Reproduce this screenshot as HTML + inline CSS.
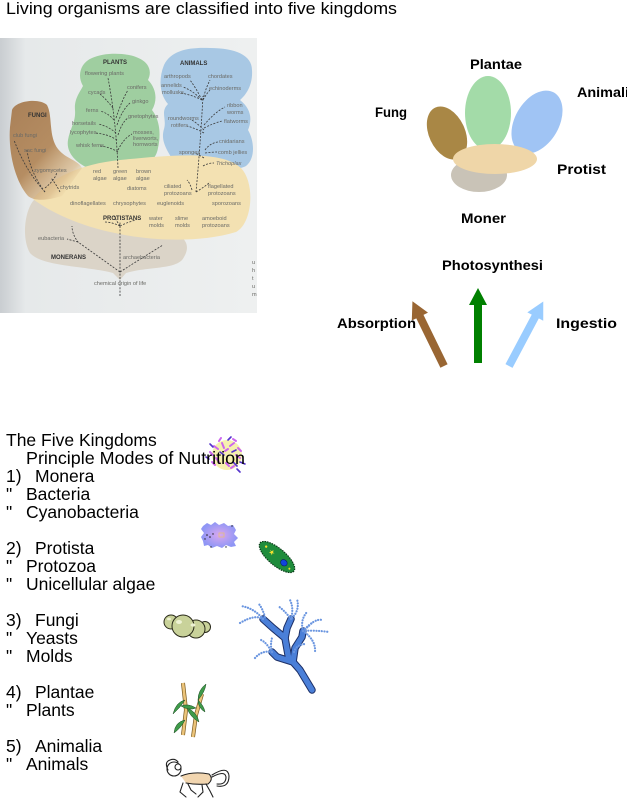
<!DOCTYPE html>
<html><head><meta charset="utf-8"><style>
html,body{margin:0;padding:0;background:#fff;}
svg{display:block;}
.t{font-family:"Liberation Sans",Arial,sans-serif;font-size:17.5px;fill:#000;}
.tt{font-family:"Liberation Sans",Arial,sans-serif;font-size:16.5px;fill:#000;}
.c{font-family:"Liberation Sans",Arial,sans-serif;font-size:14px;font-weight:bold;fill:#000;}
.p{font-family:"Liberation Sans",Arial,sans-serif;font-size:5.6px;fill:#6a6a66;}
.pb{font-family:"Liberation Sans",Arial,sans-serif;font-size:6px;font-weight:bold;fill:#333;}
.d{fill:none;stroke:#3a3a3a;stroke-width:0.8;stroke-dasharray:2 1.4;}
</style></head><body>
<svg width="627" height="800" viewBox="0 0 627 800" xmlns="http://www.w3.org/2000/svg">
<defs>
<linearGradient id="bgL" x1="0" y1="0" x2="1" y2="0">
<stop offset="0" stop-color="#c9cdd1"/><stop offset="0.1" stop-color="#e6e9ea"/><stop offset="1" stop-color="#eef0f0"/>
</linearGradient>
<linearGradient id="brn" x1="0" y1="0" x2="0.8" y2="1">
<stop offset="0" stop-color="#a98058"/><stop offset="0.55" stop-color="#b58d62"/><stop offset="0.85" stop-color="#d9b98a" stop-opacity="0.7"/><stop offset="1" stop-color="#f3e1b1" stop-opacity="0"/>
</linearGradient>
<radialGradient id="amb" cx="0.5" cy="0.5" r="0.5">
<stop offset="0" stop-color="#d9a8f0"/><stop offset="1" stop-color="#8f96f5"/>
</radialGradient>
</defs>

<!-- title -->
<text class="tt" x="6" y="14" textLength="391" lengthAdjust="spacingAndGlyphs">Living organisms are classified into five kingdoms</text>

<!-- photo -->
<rect x="0" y="38" width="257" height="275" fill="url(#bgL)"/>
<path d="M35,199 C25,208 21,238 30,253 C42,267 88,266 113,273 L120,280 L126,273 C150,266 178,270 184,257 C190,247 186,240 180,236 Z" fill="#dbd4c8"/>
<path d="M88,168 C75,162 66,152 68,140 C70,128 76,122 75,110 C74,99 80,92 83,86 C77,76 80,63 92,58 C105,52 126,53 136,57 C150,62 152,72 148,80 C156,88 158,100 152,110 C160,120 161,135 158,148 C156,160 148,164 138,166 Z" fill="#9fcea0"/>
<path d="M178,168 C168,152 160,142 164,129 C167,119 160,112 168,104 C160,95 158,80 164,65 C171,50 190,47 210,48 C235,48 252,55 252,70 C253,85 246,95 240,100 C250,108 253,118 248,130 C254,140 256,158 246,166 C235,172 200,172 178,168 Z" fill="#a8c8e4"/>
<path d="M33,199 C50,178 80,164 120,160 C170,155 222,150 241,168 C256,184 252,224 236,232 C200,243 150,241 115,233 C80,226 50,212 33,199 Z" fill="#f3e1b2"/>
<path d="M12,110 C16,100 40,98 47,105 C53,116 48,136 58,149 C66,159 78,160 82,168 L62,196 C46,201 34,201 28,196 C15,181 8,152 10,127 Z" fill="url(#brn)"/>

<path class="d" d="M118,168 Q116,120 108,78"/>
<path class="d" d="M113,108 Q106,99 100,94"/>
<path class="d" d="M116,118 Q122,100 128,90"/>
<path class="d" d="M117,125 Q122,110 130,103"/>
<path class="d" d="M118,135 Q122,122 128,118"/>
<path class="d" d="M114,120 Q108,113 100,111"/>
<path class="d" d="M116,133 Q108,126 98,124"/>
<path class="d" d="M117,140 Q108,134 95,133"/>
<path class="d" d="M118,152 Q110,147 100,146"/>
<path class="d" d="M118,150 Q124,138 132,134"/>
<path class="d" d="M196,192 Q200,150 203,96"/>
<path class="d" d="M202,100 Q196,88 190,80"/>
<path class="d" d="M203,100 Q205,90 210,80"/>
<path class="d" d="M202,100 Q192,90 183,87"/>
<path class="d" d="M202,100 Q192,95 181,93"/>
<path class="d" d="M203,100 Q207,93 210,90"/>
<path class="d" d="M204,125 Q215,112 225,107"/>
<path class="d" d="M204,128 Q214,123 222,121"/>
<path class="d" d="M204,130 Q196,122 190,119"/>
<path class="d" d="M204,133 Q195,128 187,126"/>
<path class="d" d="M205,150 Q210,143 218,142"/>
<path class="d" d="M205,153 Q212,152 217,152"/>
<path class="d" d="M204,158 Q199,155 195,153"/>
<path class="d" d="M203,166 Q208,163 214,163"/>
<path class="d" d="M196,192 Q206,186 210,182"/>
<path class="d" d="M192,190 Q190,183 187,180"/>
<path class="d" d="M120,296 L120,222"/>
<path class="d" d="M120,226 Q112,222 104,222"/>
<path class="d" d="M120,226 Q128,222 136,220"/>
<path class="d" d="M120,226 Q116,220 114,216"/>
<path class="d" d="M120,272 Q92,252 78,242 Q72,234 72,226"/>
<path class="d" d="M78,242 L67,239"/>
<path class="d" d="M120,272 Q145,256 163,245"/>
<path class="d" d="M45,192 Q25,170 14,140"/>
<path class="d" d="M45,192 Q30,172 27,150"/>
<path class="d" d="M45,188 Q55,180 57,172"/>
<path class="d" d="M60,192 Q56,184 51,178"/>

<text class="pb" x="103" y="64">PLANTS</text>
<text class="p" x="85" y="75">flowering plants</text>
<text class="p" x="127" y="89">conifers</text>
<text class="p" x="88" y="94">cycads</text>
<text class="p" x="132" y="103">ginkgo</text>
<text class="p" x="86" y="112">ferns</text>
<text class="p" x="128" y="118">gnetophytes</text>
<text class="p" x="72" y="125">horsetails</text>
<text class="p" x="70" y="134">lycophytes</text>
<text class="p" x="133" y="134">mosses,</text>
<text class="p" x="133" y="140">liverworts,</text>
<text class="p" x="133" y="146">hornworts</text>
<text class="p" x="76" y="147">whisk ferns</text>
<text class="pb" x="180" y="65">ANIMALS</text>
<text class="p" x="164" y="78">arthropods</text>
<text class="p" x="208" y="78">chordates</text>
<text class="p" x="161" y="87">annelids</text>
<text class="p" x="209" y="90">echinoderms</text>
<text class="p" x="162" y="94">mollusks</text>
<text class="p" x="227" y="107">ribbon</text>
<text class="p" x="227" y="114">worms</text>
<text class="p" x="168" y="120">roundworms</text>
<text class="p" x="224" y="123">flatworms</text>
<text class="p" x="171" y="127">rotifers</text>
<text class="p" x="219" y="143">cnidarians</text>
<text class="p" x="179" y="154">sponges</text>
<text class="p" x="218" y="154">comb jellies</text>
<text class="p" x="216" y="165" font-style="italic">Trichoplax</text>
<text class="pb" x="28" y="117">FUNGI</text>
<text class="p" x="13" y="137">club fungi</text>
<text class="p" x="24" y="152">sac fungi</text>
<text class="p" x="34" y="172">zygomycetes</text>
<text class="p" x="60" y="189">chytrids</text>
<text class="p" x="93" y="173">red</text>
<text class="p" x="93" y="180">algae</text>
<text class="p" x="113" y="173">green</text>
<text class="p" x="113" y="180">algae</text>
<text class="p" x="136" y="173">brown</text>
<text class="p" x="136" y="180">algae</text>
<text class="p" x="127" y="190">diatoms</text>
<text class="p" x="164" y="188">ciliated</text>
<text class="p" x="164" y="195">protozoans</text>
<text class="p" x="208" y="188">flagellated</text>
<text class="p" x="208" y="195">protozoans</text>
<text class="p" x="70" y="205">dinoflagellates</text>
<text class="p" x="113" y="205">chrysophytes</text>
<text class="p" x="157" y="205">euglenoids</text>
<text class="p" x="212" y="205">sporozoans</text>
<text class="pb" x="103" y="220">PROTISTANS</text>
<text class="p" x="149" y="220">water</text>
<text class="p" x="149" y="227">molds</text>
<text class="p" x="175" y="220">slime</text>
<text class="p" x="175" y="227">molds</text>
<text class="p" x="202" y="220">amoeboid</text>
<text class="p" x="202" y="227">protozoans</text>
<text class="p" x="38" y="240">eubacteria</text>
<text class="pb" x="51" y="259">MONERANS</text>
<text class="p" x="123" y="259">archaebacteria</text>
<text class="p" x="94" y="285">chemical origin of life</text>
<text class="p" x="252" y="264">u</text>
<text class="p" x="252" y="272">h</text>
<text class="p" x="252" y="280">t</text>
<text class="p" x="252" y="288">u</text>
<text class="p" x="252" y="296">m</text>

<!-- right kingdoms diagram -->
<ellipse cx="447" cy="133" rx="18" ry="28" transform="rotate(-25 447 133)" fill="#a98745"/>
<ellipse cx="488" cy="113" rx="23" ry="37" fill="#a3dba8"/>
<ellipse cx="537" cy="122" rx="22" ry="34" transform="rotate(30 537 122)" fill="#a0c4f4"/>
<ellipse cx="479" cy="175" rx="28" ry="17" fill="#c9c3b7"/>
<ellipse cx="495" cy="159" rx="42" ry="15" fill="#efd6a8"/>
<text class="c" x="470" y="69" textLength="52" lengthAdjust="spacingAndGlyphs">Plantae</text>
<text class="c" x="375" y="117" textLength="32" lengthAdjust="spacingAndGlyphs">Fung</text>
<text class="c" x="577" y="97" textLength="52" lengthAdjust="spacingAndGlyphs">Animali</text>
<text class="c" x="557" y="174" textLength="49" lengthAdjust="spacingAndGlyphs">Protist</text>
<text class="c" x="461" y="223" textLength="45" lengthAdjust="spacingAndGlyphs">Moner</text>

<text class="c" x="442" y="270" textLength="101" lengthAdjust="spacingAndGlyphs">Photosynthesi</text>
<text class="c" x="337" y="328" textLength="79" lengthAdjust="spacingAndGlyphs">Absorption</text>
<text class="c" x="556" y="328" textLength="61" lengthAdjust="spacingAndGlyphs">Ingestio</text>
<g transform="translate(444,366) rotate(-26)">
<polygon points="-4,0 4,0 4,-55 9,-55 0,-72 -9,-55 -4,-55" fill="#996633"/>
</g>
<g transform="translate(478,363)">
<polygon points="-4,0 4,0 4,-58 9,-58 0,-75 -9,-58 -4,-58" fill="#008000"/>
</g>
<g transform="translate(509,366) rotate(28)">
<polygon points="-4,0 4,0 4,-56 9,-56 0,-73 -9,-56 -4,-56" fill="#99ccff"/>
</g>

<!-- bacteria -->
<g>
<circle cx="227" cy="455" r="15" fill="#f6f0ae"/>
<g stroke="#cc66ee" stroke-width="2" stroke-linecap="round">
<line x1="214" y1="446" x2="218" y2="449"/><line x1="222" y1="443" x2="224" y2="448"/>
<line x1="230" y1="446" x2="234" y2="443"/><line x1="216" y1="458" x2="219" y2="462"/>
<line x1="236" y1="455" x2="240" y2="458"/><line x1="226" y1="463" x2="229" y2="466"/>
<line x1="210" y1="452" x2="213" y2="455"/><line x1="238" y1="448" x2="241" y2="451"/>
<line x1="219" y1="441" x2="221" y2="438"/><line x1="233" y1="439" x2="236" y2="441"/>
<line x1="212" y1="462" x2="215" y2="465"/><line x1="231" y1="468" x2="234" y2="466"/>
<line x1="225" y1="451" x2="228" y2="449"/>
</g>
<g stroke="#5533cc" stroke-width="1.6" stroke-linecap="round">
<line x1="220" y1="452" x2="224" y2="455"/><line x1="232" y1="452" x2="236" y2="450"/>
<line x1="233" y1="462" x2="237" y2="466"/><line x1="240" y1="462" x2="245" y2="464"/>
<line x1="213" y1="447" x2="210" y2="444"/><line x1="228" y1="440" x2="231" y2="437"/>
<line x1="237" y1="469" x2="240" y2="472"/><line x1="206" y1="457" x2="209" y2="459"/>
</g>
</g>

<!-- amoeba -->
<path d="M203,526 L207,523 L211,525 L215,522 L219,525 L224,523 L228,526 L233,525 L236,530 L234,534 L238,538 L234,542 L236,546 L231,547 L226,545 L222,548 L217,546 L212,548 L208,545 L204,546 L203,541 L201,537 L204,533 L201,529 Z" fill="url(#amb)"/>
<g fill="#222"><circle cx="207" cy="535" r="0.8"/><circle cx="210" cy="537" r="0.8"/><circle cx="213" cy="534" r="0.7"/><circle cx="205" cy="539" r="0.7"/><circle cx="232" cy="526" r="0.7"/><circle cx="226" cy="547" r="0.7"/><circle cx="211" cy="547" r="0.7"/></g>
<rect x="219" y="533" width="5" height="4" fill="none" stroke="#e8c070" stroke-width="0.7"/>

<!-- paramecium -->
<g transform="rotate(40 277 557)">
<ellipse cx="277" cy="557" rx="22" ry="8.5" fill="#1f8c3c" stroke="#0a3a18" stroke-width="1.2" stroke-dasharray="1.5 1"/>
<ellipse cx="286" cy="557" rx="3.5" ry="3" fill="#1144dd" stroke="#0a1a66" stroke-width="0.6"/>
<path d="M270,554 l1,2 l2,0 l-2,1 l1,2 l-2,-1 l-2,1 l1,-2 l-2,-1 l2,0 z" fill="#f2e030"/>
<circle cx="262" cy="556" r="1.2" fill="#f2e030"/>
<circle cx="294" cy="558" r="1" fill="#f2e030"/>
</g>

<!-- yeast -->
<g stroke="#2a2a1a" stroke-width="1" fill="#c9d29a">
<circle cx="171" cy="622" r="7"/>
<circle cx="205" cy="627" r="5.5"/>
<circle cx="196" cy="629" r="9"/>
<circle cx="183" cy="626" r="11"/>
</g>
<g fill="#eef2d4"><ellipse cx="179" cy="622" rx="3" ry="2"/><ellipse cx="193" cy="625" rx="2.5" ry="1.6"/><ellipse cx="169" cy="619" rx="2" ry="1.3"/></g>

<!-- mold -->
<g fill="none" stroke-linecap="round" stroke-linejoin="round">
<g stroke="#1c2f66" stroke-width="7.5">
<path d="M312,690 L300,670 L293,662 L277,657 L272,652"/>
<path d="M293,662 L295,648 L302,637 L303,631"/>
<path d="M289,660 L285,638 L287,628 L291,619"/>
<path d="M285,638 L273,628 L263,619"/>
</g>
<g stroke="#4a7fd8" stroke-width="5.5" stroke-dasharray="5 1">
<path d="M312,690 L300,670 L293,662 L277,657 L272,652"/>
<path d="M293,662 L295,648 L302,637 L303,631"/>
<path d="M289,660 L285,638 L287,628 L291,619"/>
<path d="M285,638 L273,628 L263,619"/>
</g>
<g stroke="#6b96e0" stroke-width="2.2" stroke-dasharray="0.1 2.6">
<path d="M263,619 Q255,614 240,623"/>
<path d="M263,619 Q254,608 241,606"/>
<path d="M265,617 Q262,607 258,603"/>
<path d="M291,619 Q284,610 278,606"/>
<path d="M291,619 Q294,608 290,600"/>
<path d="M292,618 Q300,610 297,599"/>
<path d="M303,631 Q300,620 307,612"/>
<path d="M303,631 Q315,618 322,620"/>
<path d="M303,631 Q315,630 329,632"/>
<path d="M303,631 Q316,640 315,652"/>
<path d="M303,631 Q310,625 313,622"/>
<path d="M272,652 Q262,650 255,658"/>
<path d="M272,652 Q266,642 261,640"/>
<path d="M272,652 Q270,645 272,638"/>
<path d="M294,652 Q296,645 305,644"/>
</g>
</g>

<!-- bamboo -->
<g>
<path d="M183,683 L186,710 L183,735" stroke="#7a5a20" stroke-width="4" fill="none"/>
<path d="M183,683 L186,710 L183,735" stroke="#ecc47a" stroke-width="2.6" fill="none"/>
<path d="M202,694 L196,715 L193,737" stroke="#7a5a20" stroke-width="4" fill="none"/>
<path d="M202,694 L196,715 L193,737" stroke="#ecc47a" stroke-width="2.6" fill="none"/>
<g fill="#3f9a4a" stroke="#1a4a20" stroke-width="0.5">
<path d="M185,700 Q176,702 173,714 Q180,708 185,700 Z"/>
<path d="M187,708 Q197,712 199,722 Q190,717 187,708 Z"/>
<path d="M198,700 Q205,692 206,684 Q198,690 198,700 Z"/>
<path d="M198,700 Q204,706 205,712 Q198,708 198,700 Z"/>
<path d="M185,720 Q175,722 174,733 Q181,728 185,720 Z"/>
<path d="M196,708 Q188,703 181,706 Q189,711 196,708 Z"/>
</g>
</g>

<!-- monkey -->
<g fill="none" stroke="#222" stroke-width="1.1" stroke-linecap="round">
<path d="M212,775 Q228,765 229,776 Q229,788 217,786"/>
<path d="M212,777 Q225,770 226,777 Q226,785 217,784"/>
<path d="M181,776 Q193,771 209,774 Q214,779 208,784 Q196,785 186,783" fill="#f2d6b0"/>
<circle cx="174" cy="769" r="7" fill="#fff"/>
<circle cx="178" cy="767" r="3" fill="#fff"/>
<path d="M183,783 L180,792 L186,797"/>
<path d="M188,784 L191,790 L196,794"/>
<path d="M206,784 L210,791 L213,797"/>
<path d="M202,785 L203,792 L198,797"/>
<path d="M168,770 Q164,762 170,760 Q175,758 178,762"/>
</g>

<!-- bottom text -->
<text class="t" x="6" y="446">The Five Kingdoms</text>
<text class="t" x="26" y="464" textLength="219" lengthAdjust="spacingAndGlyphs">Principle Modes of Nutrition</text>
<text class="t" x="6" y="482">1)</text><text class="t" x="35" y="482">Monera</text>
<text class="t" x="6" y="500">"</text><text class="t" x="26" y="500">Bacteria</text>
<text class="t" x="6" y="518">"</text><text class="t" x="26" y="518">Cyanobacteria</text>
<text class="t" x="6" y="554">2)</text><text class="t" x="35" y="554">Protista</text>
<text class="t" x="6" y="572">"</text><text class="t" x="26" y="572">Protozoa</text>
<text class="t" x="6" y="590">"</text><text class="t" x="26" y="590">Unicellular algae</text>
<text class="t" x="6" y="626">3)</text><text class="t" x="35" y="626">Fungi</text>
<text class="t" x="6" y="644">"</text><text class="t" x="26" y="644">Yeasts</text>
<text class="t" x="6" y="662">"</text><text class="t" x="26" y="662">Molds</text>
<text class="t" x="6" y="698">4)</text><text class="t" x="35" y="698">Plantae</text>
<text class="t" x="6" y="716">"</text><text class="t" x="26" y="716">Plants</text>
<text class="t" x="6" y="752">5)</text><text class="t" x="35" y="752">Animalia</text>
<text class="t" x="6" y="770">"</text><text class="t" x="26" y="770">Animals</text>
</svg>
</body></html>
